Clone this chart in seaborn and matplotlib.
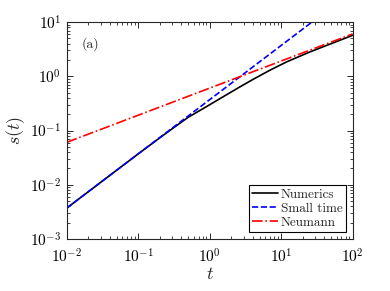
import numpy as np
import pandas as pd
import matplotlib
matplotlib.use("Agg")
import matplotlib.pyplot as plt
import seaborn as sns

# Data
t_num = [0.01, 0.03, 0.1, 0.2, 0.3, 0.5, 0.9, 1.5, 2.5, 4.0, 7.0, 12.0, 25.0, 50.0, 100.0]
s_num = [0.0037, 0.0111, 0.037, 0.073, 0.108, 0.175, 0.275, 0.41, 0.61, 0.87, 1.3, 1.85, 2.8, 4.0, 5.7]

t_small = [0.01, 27.0]
s_small = [0.0037, 10.0]

t_neu = [0.01, 100.0]
s_neu = [0.0605, 6.05]

sns.set_style("ticks")
plt.rcParams["font.family"] = ["cmr10", "DejaVu Serif"]
plt.rcParams["mathtext.fontset"] = "cm"
plt.rcParams["axes.formatter.use_mathtext"] = True
plt.rcParams["axes.unicode_minus"] = False

fig = plt.figure(figsize=(3.9, 2.91), dpi=100)
ax = fig.add_axes([0.171, 0.179, 0.733, 0.745])

sns.lineplot(x=t_num, y=s_num, ax=ax, color="black", lw=1.2, label="Numerics")
sns.lineplot(x=t_small, y=s_small, ax=ax, color=(0, 0, 1), lw=1.2, linestyle="--", label="Small time")
sns.lineplot(x=t_neu, y=s_neu, ax=ax, color=(1, 0, 0), lw=1.2, linestyle="-.", label="Neumann")

ax.set_xscale("log")
ax.set_yscale("log")
ax.set_xlim(1e-2, 1e2)
ax.set_ylim(1e-3, 1e1)
ax.set_xticks([1e-2, 1e-1, 1e0, 1e1, 1e2])
ax.set_yticks([1e-3, 1e-2, 1e-1, 1e0, 1e1])

ax.set_xlabel(r"$t$", fontsize=13, labelpad=0)
ax.set_ylabel(r"$s(t)$", fontsize=13, labelpad=2)

edge = "#262626"
for sp in ax.spines.values():
    sp.set_color(edge)
    sp.set_linewidth(0.8)
ax.tick_params(which="both", direction="in", top=True, right=True, colors=edge, labelcolor="black")
ax.tick_params(which="major", length=4, width=0.7, labelsize=11)
ax.tick_params(axis="x", which="major", pad=6)
ax.tick_params(axis="y", which="major", pad=4)
ax.tick_params(which="minor", length=2.2, width=0.6)

ax.text(0.053, 0.9, "(a)", transform=ax.transAxes, fontsize=10, va="center", ha="left")

leg = ax.legend(loc="lower right", fontsize=9.5, frameon=True, fancybox=False,
                edgecolor="black", framealpha=1, handlelength=2.0, handletextpad=0.2,
                borderpad=0.25, labelspacing=0.15, borderaxespad=0.5)
leg.get_frame().set_linewidth(0.8)

fig.savefig("out.png", dpi=100)
